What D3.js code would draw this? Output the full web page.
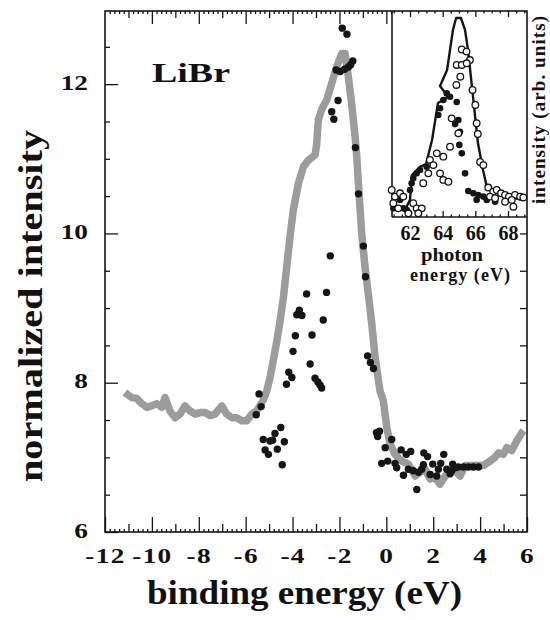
<!DOCTYPE html>
<html><head><meta charset="utf-8">
<script src="https://cdn.jsdelivr.net/npm/d3@7"></script>
<style>
body{margin:0;background:#fff}
svg{display:block}
text{font-family:"Liberation Serif","Times New Roman",serif;font-weight:bold;fill:#111}
</style>
</head><body>
<svg id="c" width="550" height="620"></svg>
<script>
// ---- main chart data: gray band (binding energy, normalized intensity)
const bandX = [-11.15,-10.86,-10.65,-10.43,-10.22,-10.01,-9.79,-9.58,-9.44,-9.23,-9.01,-8.80,-8.59,-8.37,-8.16,-7.95,-7.73,-7.52,-7.31,-7.02,-6.81,-6.59,-6.38,-6.17,-5.95,-5.74,-5.53,-5.26,-5.10,-4.96,-4.82,-4.67,-4.53,-4.39,-4.25,-4.11,-3.97,-3.75,-3.54,-3.33,-3.04,-2.97,-2.90,-2.76,-2.54,-2.33,-2.12,-1.90,-1.76,-1.62,-1.48,-1.33,-1.26,-1.19,-1.05,-0.91,-0.77,-0.62,-0.48,-0.27,-0.13,0.02,0.16,0.37,0.66,0.94,1.23,1.44,1.65,1.87,2.08,2.29,2.51,2.72,2.93,3.15,3.36,3.57,3.86,4.14,4.42,4.64,4.78,4.99,5.14,5.35,5.56,5.78,5.85];
const bandY = [7.87,7.80,7.79,7.72,7.67,7.69,7.72,7.67,7.80,7.62,7.53,7.58,7.69,7.62,7.58,7.60,7.60,7.56,7.58,7.69,7.58,7.53,7.53,7.49,7.49,7.58,7.62,7.76,7.89,8.07,8.30,8.56,8.83,9.14,9.55,9.95,10.31,10.67,10.89,10.98,11.05,11.20,11.52,11.66,11.79,12.01,12.23,12.41,12.41,12.10,11.74,11.29,11.02,10.67,10.00,9.55,9.19,8.79,8.34,7.89,7.76,7.40,7.18,7.04,6.95,6.91,6.75,6.80,6.84,6.71,6.73,6.64,6.75,6.80,6.82,6.75,6.89,6.89,6.89,6.89,6.95,7.00,7.06,7.04,7.13,7.09,7.22,7.33,7.36];

// ---- main chart data: black dots
const dotX = [-1.88,-1.68,-2.14,-1.97,-1.78,-1.62,-1.52,-1.43,-2.06,-2.33,-2.24,-1.32,-1.19,-2.39,-0.98,-0.89,-3.40,-2.55,-3.71,-3.82,-3.60,-2.69,-3.88,-3.17,-3.98,-3.25,-4.16,-4.03,-4.26,-3.04,-2.92,-2.83,-2.76,-0.80,-0.68,-0.55,-5.43,-5.34,-5.55,-4.50,-4.75,-5.25,-4.96,-4.85,-4.35,-5.17,-5.03,-4.65,-4.44,-0.42,-0.29,-0.37,0.23,-0.05,-0.20,0.06,0.37,0.44,0.63,0.85,1.04,0.73,0.94,1.15,1.37,1.51,1.58,1.60,1.76,1.30,1.87,1.98,2.15,2.32,2.45,2.58,2.72,2.83,2.93,2.79,3.07,3.29,3.50,3.71,3.93,2.22];
const dotY = [12.75,12.67,12.19,12.17,12.20,12.23,12.26,12.31,11.78,11.63,11.53,11.15,10.53,9.70,9.83,9.42,9.19,9.21,8.97,8.91,8.90,8.84,8.63,8.64,8.42,8.25,8.14,8.07,7.98,8.06,8.01,7.97,7.93,8.36,8.27,8.19,7.85,7.68,7.57,7.40,7.32,7.24,7.22,7.23,7.21,7.10,7.04,7.11,6.90,7.33,7.35,7.28,7.24,7.13,6.92,6.95,6.92,6.86,7.10,7.04,7.08,6.76,6.84,6.82,6.80,6.84,6.90,7.06,7.01,6.57,6.77,6.91,6.75,6.92,7.04,6.84,6.78,6.91,6.86,6.82,6.87,6.87,6.87,6.87,6.87,6.84];

// ---- inset data (photon energy, arb. intensity)
const insetLineX = [61.14,61.69,62.00,62.12,62.61,62.98,63.35,63.71,64.33,63.84,64.27,64.63,64.82,65.12,65.37,65.55,65.86,66.16,66.47,66.72,67.21,68.12,68.86];
const insetLineY = [0.049,0.034,0.083,0.204,0.243,0.257,0.374,0.553,0.583,0.636,0.714,0.908,0.966,0.966,0.908,0.811,0.583,0.359,0.228,0.141,0.121,0.097,0.083];
const insetOpenX = [65.17,65.46,65.67,64.86,65.17,65.47,65.08,64.84,65.83,66.00,66.08,66.15,64.55,64.96,64.45,64.04,63.64,63.22,63.43,63.12,62.81,63.84,64.04,64.35,66.29,66.49,66.79,67.10,67.31,67.57,67.82,68.06,68.43,68.74,68.94,68.33,66.90,67.21,67.82,68.23,60.88,61.08,61.39,61.59,60.98,61.28,62.20,62.41,62.72,62.51,61.90];
const insetOpenY = [0.813,0.803,0.762,0.738,0.738,0.746,0.681,0.641,0.617,0.544,0.455,0.403,0.479,0.406,0.341,0.293,0.309,0.277,0.252,0.212,0.164,0.212,0.180,0.171,0.267,0.252,0.143,0.123,0.131,0.115,0.107,0.099,0.107,0.099,0.095,0.050,0.099,0.091,0.074,0.083,0.131,0.099,0.115,0.099,0.067,0.042,0.067,0.042,0.042,0.018,0.018];
const insetFilledX = [64.25,64.45,64.04,63.84,63.73,64.76,65.02,65.17,65.37,65.57,65.88,66.18,66.49,66.08,66.70,67.21,63.02,62.61,62.41,62.20,62.10,62.00,61.39,60.98,61.59,61.80,64.86,64.96,65.06];
const insetFilledY = [0.600,0.584,0.568,0.528,0.495,0.451,0.350,0.309,0.212,0.126,0.115,0.107,0.099,0.083,0.083,0.074,0.244,0.228,0.212,0.188,0.164,0.131,0.083,0.042,0.042,0.034,0.558,0.471,0.414];

// ---- tick labels
const xTickLabels = [-12,-10,-8,-6,-4,-2,0,2,4,6];
const yTickLabels = [6,8,10,12];
const insetTickLabels = [62,64,66,68];

const svg = d3.select('#c');
const L = 105, R = 527, T = 11, B = 532;
const IL = 392, IB = 217;
const x = d3.scaleLinear().domain([-12, 6]).range([L, R]);
const y = d3.scaleLinear().domain([6, 12.98]).range([B, T]);
const ix = d3.scaleLinear().domain([62, 68]).range([410, 508]);
const iy = d3.scaleLinear().domain([0, 1]).range([IB, T]);
const ink = '#151515';
const r2 = v => Math.round(v * 100) / 100;
const intFmt = d3.format('d');

// gray band
const band = bandX.map((d, i) => [d, bandY[i]]);
svg.append('path').datum(band)
  .attr('d', d3.line().x(d => x(d[0])).y(d => y(d[1])))
  .attr('fill', 'none').attr('stroke', '#9c9c9c').attr('stroke-width', 7.5)
  .attr('stroke-linejoin', 'round').attr('stroke-linecap', 'butt');

// dots
svg.append('g').selectAll('circle').data(dotX.map((d, i) => [d, dotY[i]])).join('circle')
  .attr('cx', d => x(d[0])).attr('cy', d => y(d[1])).attr('r', 3.7).attr('fill', ink);

// ---- axes
function styleAxis(g) {
  g.select('.domain').remove();
  g.attr('font-family', null);
  g.selectAll('line').attr('stroke', ink).attr('stroke-width', 1.3);
}
const isInt = v => Math.abs(v - Math.round(v)) < 1e-6;
const tiny = d3.range(-12, 6.001, 0.2).map(r2).filter(v => !isInt(v));
const odd = d3.range(-11, 6, 2);

// bottom
svg.append('g').attr('transform', `translate(0,${B})`)
  .call(d3.axisBottom(x).tickValues(tiny).tickSize(-3).tickFormat('')).call(styleAxis);
svg.append('g').attr('transform', `translate(0,${B})`)
  .call(d3.axisBottom(x).tickValues(odd).tickSize(-8).tickFormat('')).call(styleAxis);
const xb = svg.append('g').attr('transform', `translate(0,${B})`)
  .call(d3.axisBottom(x).tickValues(xTickLabels).tickSize(-15).tickPadding(16)
    .tickFormat(d => d < 0 ? '-' + Math.abs(d) : String(d)))
  .call(styleAxis);
xb.selectAll('text').attr('font-size', 21).style('letter-spacing', '1px')
  .attr('transform', 'scale(1.3,1)').attr('fill', ink);

// top (stops at inset)
svg.append('g').attr('transform', `translate(0,${T})`)
  .call(d3.axisTop(x).tickValues(tiny.filter(v => x(v) < IL)).tickSize(-3).tickFormat('')).call(styleAxis);
svg.append('g').attr('transform', `translate(0,${T})`)
  .call(d3.axisTop(x).tickValues(odd.filter(v => x(v) < IL)).tickSize(-7).tickFormat('')).call(styleAxis);
svg.append('g').attr('transform', `translate(0,${T})`)
  .call(d3.axisTop(x).tickValues(xTickLabels.filter(v => x(v) < IL && v > -12)).tickSize(-13).tickFormat('')).call(styleAxis);

// left
const yMinor = d3.range(6.5, 13, 1).map(r2).concat([7, 9, 11]);
svg.append('g').attr('transform', `translate(${L},0)`)
  .call(d3.axisLeft(y).tickValues(yMinor).tickSize(-5).tickFormat('')).call(styleAxis);
const yl = svg.append('g').attr('transform', `translate(${L},0)`)
  .call(d3.axisLeft(y).tickValues(yTickLabels).tickSize(-13).tickPadding(17).tickFormat(intFmt))
  .call(styleAxis);
yl.selectAll('text').attr('font-size', 21)
  .attr('x', -17 / 1.3).attr('dy', '0.25em').attr('transform', 'scale(1.3,1)').attr('fill', ink);

// right (below inset)
const yRight = d3.range(6.5, 10.01, 0.5).map(r2);
svg.append('g').attr('transform', `translate(${R},0)`)
  .call(d3.axisRight(y).tickValues(yRight).tickSize(-7).tickFormat('')).call(styleAxis);

// frame
svg.append('rect').attr('x', L).attr('y', T).attr('width', R - L).attr('height', B - T)
  .attr('fill', 'none').attr('stroke', ink).attr('stroke-width', 1.6);

// ---- inset
svg.append('line').attr('x1', IL).attr('x2', IL).attr('y1', T).attr('y2', IB)
  .attr('stroke', ink).attr('stroke-width', 1.6);
svg.append('line').attr('x1', IL).attr('x2', R).attr('y1', IB).attr('y2', IB)
  .attr('stroke', ink).attr('stroke-width', 1.6);
const iMinor = d3.range(61, 69.3, 0.5).filter(v => v % 2 !== 0);
svg.append('g').attr('transform', `translate(0,${IB})`)
  .call(d3.axisBottom(ix).tickValues(iMinor).tickSize(-2.5).tickFormat('')).call(styleAxis);
svg.append('g').attr('transform', `translate(0,${T})`)
  .call(d3.axisTop(ix).tickValues(iMinor).tickSize(-2.5).tickFormat('')).call(styleAxis);
svg.append('g').attr('transform', `translate(0,${T})`)
  .call(d3.axisTop(ix).tickValues(insetTickLabels).tickSize(-6).tickFormat('')).call(styleAxis);
const ib = svg.append('g').attr('transform', `translate(0,${IB})`)
  .call(d3.axisBottom(ix).tickValues(insetTickLabels).tickSize(-6).tickPadding(9).tickFormat(intFmt))
  .call(styleAxis);
ib.selectAll('text').attr('font-size', 20).attr('fill', ink);

svg.append('path').datum(insetLineX.map((d, i) => [d, insetLineY[i]]))
  .attr('d', d3.line().x(d => ix(d[0])).y(d => iy(d[1])))
  .attr('fill', 'none').attr('stroke', ink).attr('stroke-width', 2.4).attr('stroke-linejoin', 'round');
svg.append('g').selectAll('circle').data(insetFilledX.map((d, i) => [d, insetFilledY[i]])).join('circle')
  .attr('cx', d => ix(d[0])).attr('cy', d => iy(d[1])).attr('r', 3.3).attr('fill', ink);
svg.append('g').selectAll('circle').data(insetOpenX.map((d, i) => [d, insetOpenY[i]])).join('circle')
  .attr('cx', d => ix(d[0])).attr('cy', d => iy(d[1])).attr('r', 3.3)
  .attr('fill', '#fff').attr('stroke', ink).attr('stroke-width', 1.3);

// ---- texts
svg.append('text').attr('x', 152).attr('y', 82).attr('font-size', 27)
  .attr('textLength', 78).attr('lengthAdjust', 'spacingAndGlyphs').text('LiBr');
svg.append('text').attr('text-anchor', 'middle')
  .attr('transform', 'translate(42,306) rotate(-90)').attr('font-size', 33)
  .attr('textLength', 352).attr('lengthAdjust', 'spacingAndGlyphs').text('normalized intensity');
svg.append('text').attr('x', 147).attr('y', 604).attr('font-size', 33)
  .attr('textLength', 315).attr('lengthAdjust', 'spacingAndGlyphs').text('binding energy (eV)');
svg.append('text').attr('x', 452).attr('y', 261).attr('text-anchor', 'middle').attr('font-size', 18)
  .attr('textLength', 62).attr('lengthAdjust', 'spacingAndGlyphs').text('photon');
svg.append('text').attr('x', 410).attr('y', 281).attr('font-size', 18)
  .attr('textLength', 100).attr('lengthAdjust', 'spacing').text('energy (eV)');
svg.append('text').attr('text-anchor', 'middle')
  .attr('transform', 'translate(545,110) rotate(-90)').attr('font-size', 19)
  .attr('textLength', 188).attr('lengthAdjust', 'spacing').text('intensity (arb. units)');
</script>
</body></html>
